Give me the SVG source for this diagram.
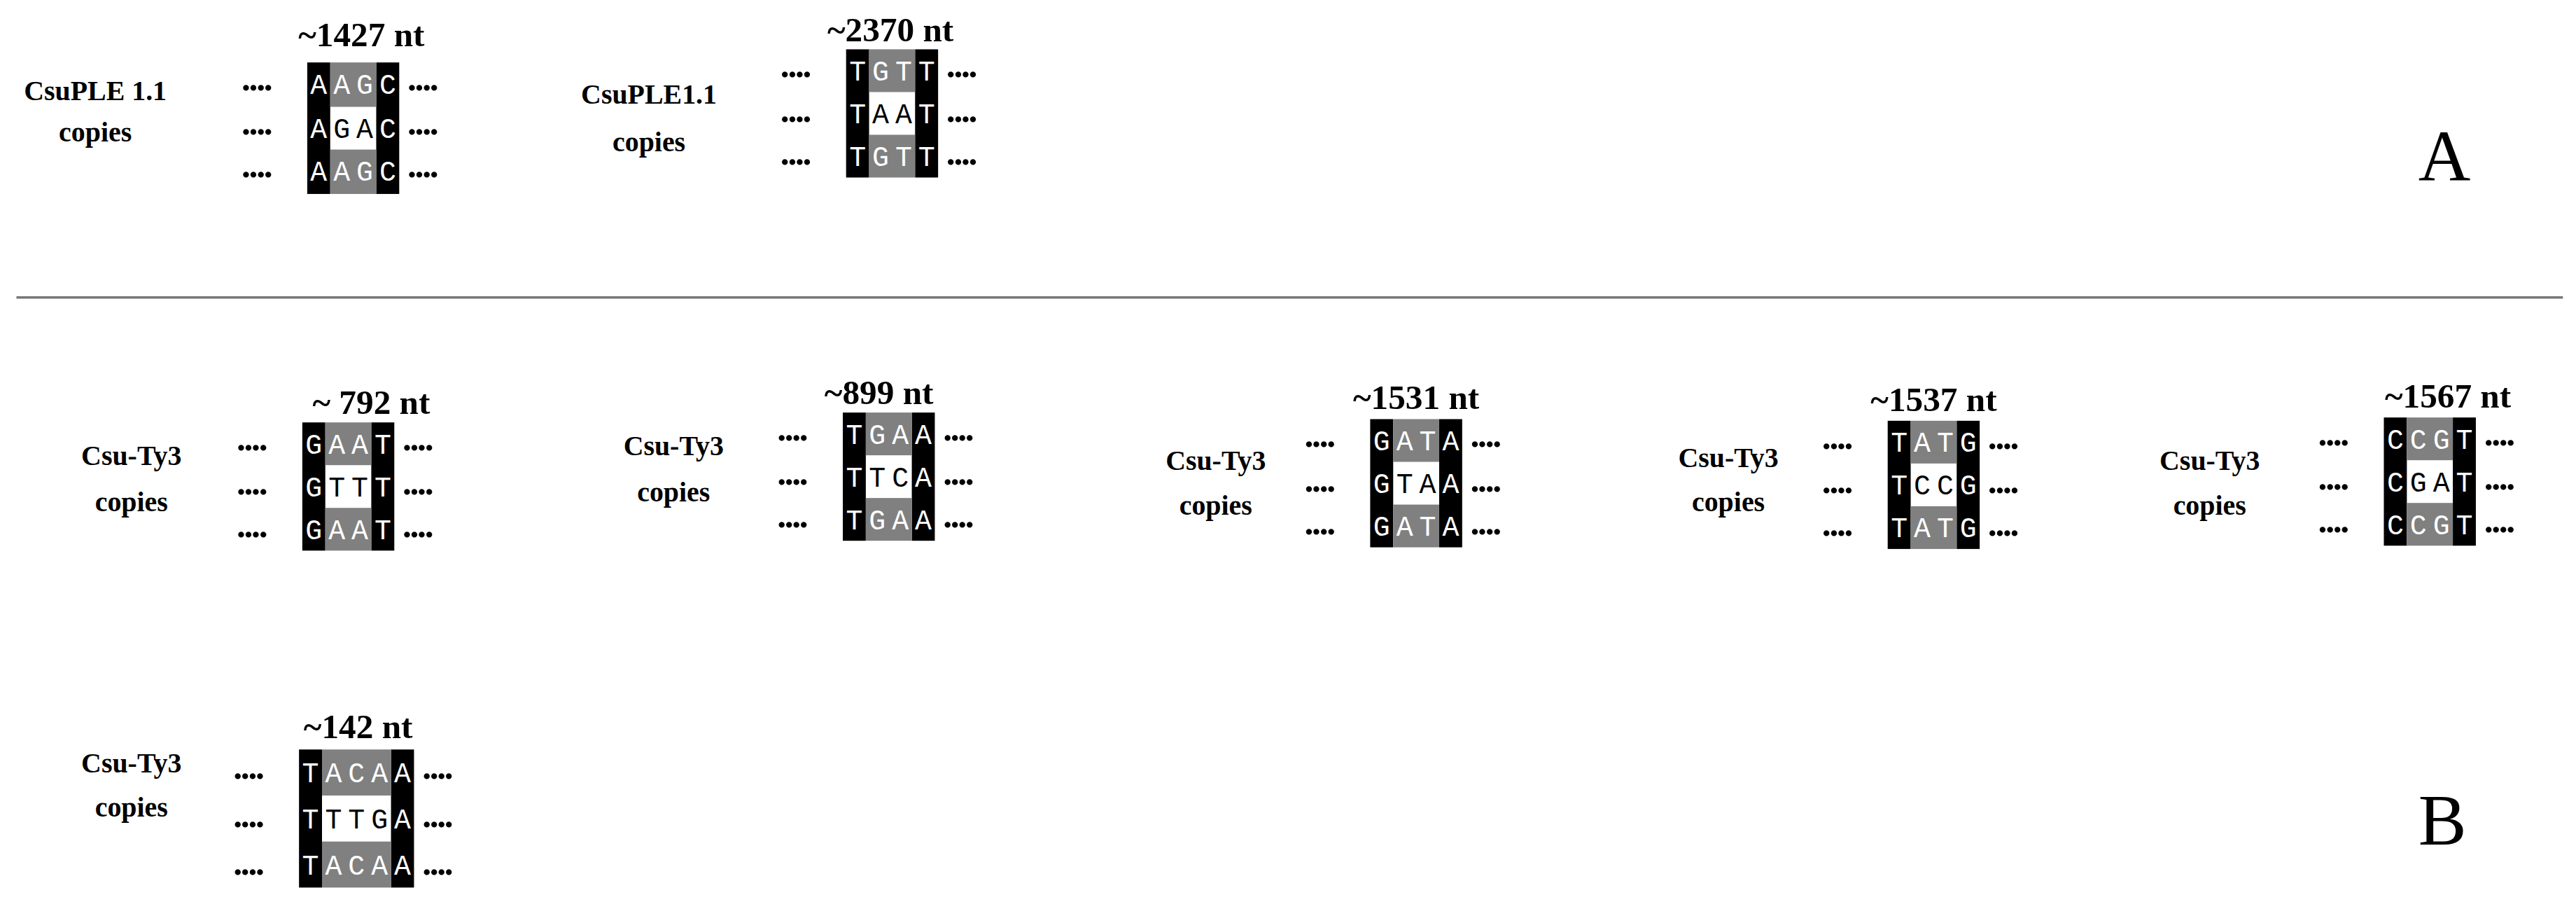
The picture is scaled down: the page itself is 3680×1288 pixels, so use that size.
<svg xmlns="http://www.w3.org/2000/svg" width="3680" height="1288" viewBox="0 0 3680 1288">
<style>
.t{font-family:"Liberation Serif",serif;font-weight:bold;font-size:21px;text-anchor:middle;fill:#000}
.l{font-family:"Liberation Serif",serif;font-weight:bold;font-size:17px;text-anchor:middle;fill:#000}
.n{font-family:"Liberation Mono",monospace;font-size:17px;text-anchor:middle;fill:#fff}
.w{fill:#000}
.d{font-family:"Liberation Serif",serif;font-weight:bold;font-size:22px;fill:#000;letter-spacing:-1px}
.big{font-family:"Liberation Serif",serif;font-size:44px;fill:#000}
.k{fill:#000}.g{fill:#808080}
</style>
<rect width="3680" height="1288" fill="#fff"/>
<g transform="scale(2.347)">
<line x1="10" y1="181" x2="1560" y2="181" stroke="#777" stroke-width="1.5"/>
<text class="big" x="1472" y="110">A</text>
<text class="big" x="1472" y="514">B</text>

<g id="a1">
<text class="t" x="220" y="28">~1427 nt</text>
<text class="l" x="58" y="61">CsuPLE 1.1</text><text class="l" x="58" y="86">copies</text>
<g transform="translate(187,38)">
<rect class="k" x="0" y="0" width="14" height="80"/><rect class="k" x="42" y="0" width="14" height="80"/>
<rect class="g" x="14" y="0" width="28" height="27"/><rect class="g" x="14" y="53" width="28" height="27"/>
<text class="d" x="-40" y="17">....</text><text class="d" x="-40" y="44">....</text><text class="d" x="-40" y="70">....</text>
<text class="d" x="61" y="17">....</text><text class="d" x="61" y="44">....</text><text class="d" x="61" y="70">....</text>
<text class="n" y="19"><tspan x="7">A</tspan><tspan x="21">A</tspan><tspan x="35">G</tspan><tspan x="49">C</tspan></text>
<text class="n" y="46"><tspan x="7">A</tspan><tspan x="21" class="w">G</tspan><tspan x="35" class="w">A</tspan><tspan x="49">C</tspan></text>
<text class="n" y="72"><tspan x="7">A</tspan><tspan x="21">A</tspan><tspan x="35">G</tspan><tspan x="49">C</tspan></text>
</g></g>

<g id="a2">
<text class="t" x="542" y="25">~2370 nt</text>
<text class="l" x="395" y="63">CsuPLE1.1</text><text class="l" x="395" y="92">copies</text>
<g transform="translate(515,30)">
<rect class="k" x="0" y="0" width="14" height="78"/><rect class="k" x="42" y="0" width="14" height="78"/>
<rect class="g" x="14" y="0" width="28" height="26"/><rect class="g" x="14" y="52" width="28" height="26"/>
<text class="d" x="-40" y="17">....</text><text class="d" x="-40" y="44">....</text><text class="d" x="-40" y="70">....</text>
<text class="d" x="61" y="17">....</text><text class="d" x="61" y="44">....</text><text class="d" x="61" y="70">....</text>
<text class="n" y="19"><tspan x="7">T</tspan><tspan x="21">G</tspan><tspan x="35">T</tspan><tspan x="49">T</tspan></text>
<text class="n" y="45"><tspan x="7">T</tspan><tspan x="21" class="w">A</tspan><tspan x="35" class="w">A</tspan><tspan x="49">T</tspan></text>
<text class="n" y="71"><tspan x="7">T</tspan><tspan x="21">G</tspan><tspan x="35">T</tspan><tspan x="49">T</tspan></text>
</g></g>

<g id="b1">
<text class="t" x="226" y="252">~ 792 nt</text>
<text class="l" x="80" y="283">Csu-Ty3</text><text class="l" x="80" y="311">copies</text>
<g transform="translate(184,257)">
<rect class="k" x="0" y="0" width="14" height="78"/><rect class="k" x="42" y="0" width="14" height="78"/>
<rect class="g" x="14" y="0" width="28" height="26"/><rect class="g" x="14" y="52" width="28" height="26"/>
<text class="d" x="-40" y="17">....</text><text class="d" x="-40" y="44">....</text><text class="d" x="-40" y="70">....</text>
<text class="d" x="61" y="17">....</text><text class="d" x="61" y="44">....</text><text class="d" x="61" y="70">....</text>
<text class="n" y="19"><tspan x="7">G</tspan><tspan x="21">A</tspan><tspan x="35">A</tspan><tspan x="49">T</tspan></text>
<text class="n" y="45"><tspan x="7">G</tspan><tspan x="21" class="w">T</tspan><tspan x="35" class="w">T</tspan><tspan x="49">T</tspan></text>
<text class="n" y="71"><tspan x="7">G</tspan><tspan x="21">A</tspan><tspan x="35">A</tspan><tspan x="49">T</tspan></text>
</g></g>

<g id="b2">
<text class="t" x="535" y="246">~899 nt</text>
<text class="l" x="410" y="277">Csu-Ty3</text><text class="l" x="410" y="305">copies</text>
<g transform="translate(513,251)">
<rect class="k" x="0" y="0" width="14" height="78"/><rect class="k" x="42" y="0" width="14" height="78"/>
<rect class="g" x="14" y="0" width="28" height="26"/><rect class="g" x="14" y="52" width="28" height="26"/>
<text class="d" x="-40" y="17">....</text><text class="d" x="-40" y="44">....</text><text class="d" x="-40" y="70">....</text>
<text class="d" x="61" y="17">....</text><text class="d" x="61" y="44">....</text><text class="d" x="61" y="70">....</text>
<text class="n" y="19"><tspan x="7">T</tspan><tspan x="21">G</tspan><tspan x="35">A</tspan><tspan x="49">A</tspan></text>
<text class="n" y="45"><tspan x="7">T</tspan><tspan x="21" class="w">T</tspan><tspan x="35" class="w">C</tspan><tspan x="49">A</tspan></text>
<text class="n" y="71"><tspan x="7">T</tspan><tspan x="21">G</tspan><tspan x="35">A</tspan><tspan x="49">A</tspan></text>
</g></g>

<g id="b3">
<text class="t" x="862" y="249">~1531 nt</text>
<text class="l" x="740" y="286">Csu-Ty3</text><text class="l" x="740" y="313">copies</text>
<g transform="translate(834,255)">
<rect class="k" x="0" y="0" width="14" height="78"/><rect class="k" x="42" y="0" width="14" height="78"/>
<rect class="g" x="14" y="0" width="28" height="26"/><rect class="g" x="14" y="52" width="28" height="26"/>
<text class="d" x="-40" y="17">....</text><text class="d" x="-40" y="44">....</text><text class="d" x="-40" y="70">....</text>
<text class="d" x="61" y="17">....</text><text class="d" x="61" y="44">....</text><text class="d" x="61" y="70">....</text>
<text class="n" y="19"><tspan x="7">G</tspan><tspan x="21">A</tspan><tspan x="35">T</tspan><tspan x="49">A</tspan></text>
<text class="n" y="45"><tspan x="7">G</tspan><tspan x="21" class="w">T</tspan><tspan x="35" class="w">A</tspan><tspan x="49">A</tspan></text>
<text class="n" y="71"><tspan x="7">G</tspan><tspan x="21">A</tspan><tspan x="35">T</tspan><tspan x="49">A</tspan></text>
</g></g>

<g id="b4">
<text class="t" x="1177" y="250">~1537 nt</text>
<text class="l" x="1052" y="284">Csu-Ty3</text><text class="l" x="1052" y="311">copies</text>
<g transform="translate(1149,256)">
<rect class="k" x="0" y="0" width="14" height="78"/><rect class="k" x="42" y="0" width="14" height="78"/>
<rect class="g" x="14" y="0" width="28" height="26"/><rect class="g" x="14" y="52" width="28" height="26"/>
<text class="d" x="-40" y="17">....</text><text class="d" x="-40" y="44">....</text><text class="d" x="-40" y="70">....</text>
<text class="d" x="61" y="17">....</text><text class="d" x="61" y="44">....</text><text class="d" x="61" y="70">....</text>
<text class="n" y="19"><tspan x="7">T</tspan><tspan x="21">A</tspan><tspan x="35">T</tspan><tspan x="49">G</tspan></text>
<text class="n" y="45"><tspan x="7">T</tspan><tspan x="21" class="w">C</tspan><tspan x="35" class="w">C</tspan><tspan x="49">G</tspan></text>
<text class="n" y="71"><tspan x="7">T</tspan><tspan x="21">A</tspan><tspan x="35">T</tspan><tspan x="49">G</tspan></text>
</g></g>

<g id="b5">
<text class="t" x="1490" y="248">~1567 nt</text>
<text class="l" x="1345" y="286">Csu-Ty3</text><text class="l" x="1345" y="313">copies</text>
<g transform="translate(1451,254)">
<rect class="k" x="0" y="0" width="14" height="78"/><rect class="k" x="42" y="0" width="14" height="78"/>
<rect class="g" x="14" y="0" width="28" height="26"/><rect class="g" x="14" y="52" width="28" height="26"/>
<text class="d" x="-40" y="17">....</text><text class="d" x="-40" y="44">....</text><text class="d" x="-40" y="70">....</text>
<text class="d" x="61" y="17">....</text><text class="d" x="61" y="44">....</text><text class="d" x="61" y="70">....</text>
<text class="n" y="19"><tspan x="7">C</tspan><tspan x="21">C</tspan><tspan x="35">G</tspan><tspan x="49">T</tspan></text>
<text class="n" y="45"><tspan x="7">C</tspan><tspan x="21" class="w">G</tspan><tspan x="35" class="w">A</tspan><tspan x="49">T</tspan></text>
<text class="n" y="71"><tspan x="7">C</tspan><tspan x="21">C</tspan><tspan x="35">G</tspan><tspan x="49">T</tspan></text>
</g></g>

<g id="b6">
<text class="t" x="218" y="449">~142 nt</text>
<text class="l" x="80" y="470">Csu-Ty3</text><text class="l" x="80" y="497">copies</text>
<g transform="translate(182,456)">
<rect class="k" x="0" y="0" width="14" height="84"/><rect class="k" x="56" y="0" width="14" height="84"/>
<rect class="g" x="14" y="0" width="42" height="28"/><rect class="g" x="14" y="56" width="42" height="28"/>
<text class="d" x="-40" y="18">....</text><text class="d" x="-40" y="47">....</text><text class="d" x="-40" y="76">....</text>
<text class="d" x="75" y="18">....</text><text class="d" x="75" y="47">....</text><text class="d" x="75" y="76">....</text>
<text class="n" y="20"><tspan x="7">T</tspan><tspan x="21">A</tspan><tspan x="35">C</tspan><tspan x="49">A</tspan><tspan x="63">A</tspan></text>
<text class="n" y="48"><tspan x="7">T</tspan><tspan x="21" class="w">T</tspan><tspan x="35" class="w">T</tspan><tspan x="49" class="w">G</tspan><tspan x="63">A</tspan></text>
<text class="n" y="76"><tspan x="7">T</tspan><tspan x="21">A</tspan><tspan x="35">C</tspan><tspan x="49">A</tspan><tspan x="63">A</tspan></text>
</g></g>
</g>
</svg>
